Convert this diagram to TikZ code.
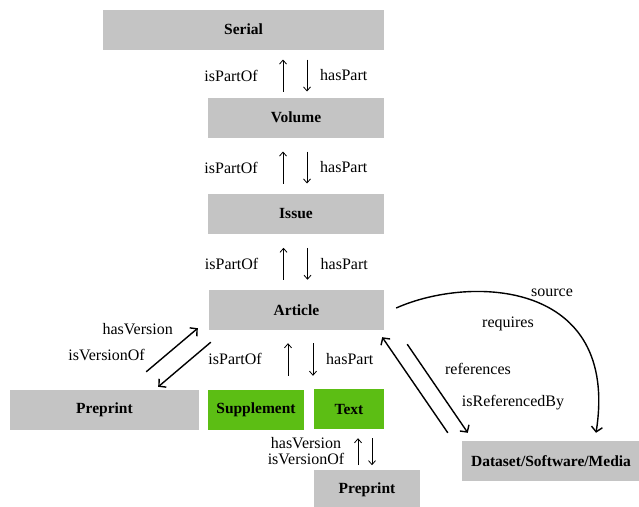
\documentclass[tikz,border=0pt]{standalone}
\usepackage{fontspec}
\setmainfont{Liberation Serif}
\usetikzlibrary{arrows.meta,calc}
\definecolor{boxgrey}{HTML}{C4C4C4}
\definecolor{leaf}{HTML}{5CBE14}

\begin{document}
\begin{tikzpicture}[x=1pt,y=-1pt,
  box/.style={fill=boxgrey,minimum height=40pt,inner sep=0pt,font=\fontsize{15.5}{18}\selectfont\bfseries},
  part/.style={box,fill=leaf},
  lbl/.style={font=\fontsize{16}{19}\selectfont,inner sep=0pt},
  thin/.style={-{Straight Barb[length=4pt,width=7pt]},line width=.8pt},
  thick/.style={-{Straight Barb[length=5pt,width=11pt]},line width=1.4pt}]

\useasboundingbox (0,0) rectangle (639,506);

% hierarchy
\node[box,minimum width=281pt] (serial) at (243.5,29.5) {Serial};
\node[box,minimum width=176pt] (vol) at (296,117.5) {Volume};
\node[box,minimum width=176pt] (issue) at (296,213.5) {Issue};
\node[box,minimum width=175pt] (article) at (296.5,310) {Article};

\foreach \lo/\hi in {vol/serial,issue/vol,article/issue}{
  \coordinate (m) at ($(\lo.north)!.5!(\lo.north |- \hi.south)+(0,2)$);
  \draw[thin] ($(m)+(-13,16)$) -- ($(m)+(-13,-16)$);
  \draw[thin] ($(m)+(11,-16)$) -- ($(m)+(11,16)$);
  \node[lbl,anchor=east] at ($(m)+(-38,0)$) {isPartOf};
  \node[lbl,anchor=west] at ($(m)+(24,0)$) {hasPart};
}

% parts and versions
\node[box,minimum width=189pt] (prel) at (104.5,410) {Preprint};
\node[part,minimum width=96pt] (supp) at (256,410) {Supplement};
\node[part,minimum width=70pt] (text) at (349,409) {Text};
\node[box,minimum width=106pt] (preb) at (367,490) {Preprint};
\node[box,minimum width=178pt] (data) at (551,461) {Dataset/Software/Media};

\draw[thin] ([xshift=-8.5pt,yshift=14pt]article.south |- supp.north) -- ([xshift=-8.5pt,yshift=-13pt]article.south);
\draw[thin] ([xshift=16.5pt,yshift=-13pt]article.south) -- ([xshift=16.5pt,yshift=14pt]article.south |- supp.north);
\node[lbl,anchor=east] at (262,359) {isPartOf};
\node[lbl,anchor=west] at (326,359) {hasPart};

\draw[thick] ([xshift=-53pt,yshift=18pt]prel.north east) -- ([xshift=-11pt,yshift=2pt]article.south west);
\draw[thick] ([xshift=2pt,yshift=-12pt]article.south west) -- ([xshift=-41pt,yshift=3pt]prel.north east);
\node[lbl,anchor=east] at (173,329) {hasVersion};
\node[lbl,anchor=east] at (145,355) {isVersionOf};

\draw[thin] ([xshift=9pt,yshift=-36pt]text.south) -- ([xshift=9pt,yshift=-9pt]text.south);
\draw[thin] ([xshift=23pt,yshift=-9pt]text.south) -- ([xshift=23pt,yshift=-36pt]text.south);
\node[lbl,align=center] at (306,451) {hasVersion\\[-3pt]isVersionOf};

% links to data
\draw[thick] ([xshift=-14pt,yshift=8pt]data.north west) -- ([xshift=-2pt,yshift=-7pt]article.south east);
\draw[thick] ([xshift=23pt,yshift=-14pt]article.south east) -- ([xshift=6pt,yshift=8pt]data.north west);
\node[lbl] at (478,369) {references};
\node[lbl] at (513,403) {isReferencedBy};

\draw[thick] ([xshift=12pt,yshift=2pt]article.east) .. controls +(74,-33) and +(24,-153) .. ([xshift=45pt,yshift=8pt]data.north);
\node[lbl] at (552,293) {source};
\node[lbl] at (508,324) {requires};

\end{tikzpicture}
\end{document}
